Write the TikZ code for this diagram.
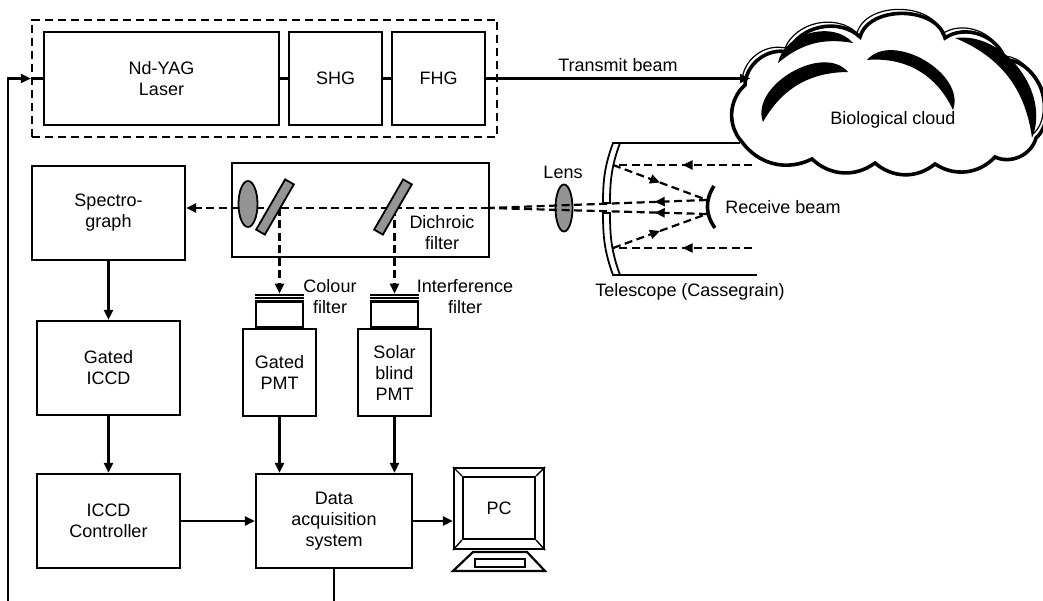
\documentclass[tikz,border=0pt]{standalone}
\usepackage{fontspec}
\setmainfont{Liberation Sans}
\usetikzlibrary{arrows.meta, calc, positioning, fit, shapes.geometric, decorations.markings}

\begin{document}
\begin{tikzpicture}[x=1pt, y=1pt, line width=2.2pt,
  box/.style={draw, align=center, inner sep=0pt, font=\fontsize{18}{21}\selectfont},
  lbl/.style={align=center, inner sep=0pt, font=\fontsize{18}{21}\selectfont},
  arr/.style={-{Triangle[length=10pt,width=9pt]}},
  beam/.style={dash pattern=on 8pt off 4.5pt},
  midarrow/.style={postaction={decorate}, decoration={markings,
    mark=at position #1 with {\arrow{Triangle[length=10pt,width=9pt]}}}},
  midarrow/.default=0.5,
  glass/.style={draw, fill=black!42, line width=1.8pt, inner sep=0pt}]
\useasboundingbox (0,0) rectangle (1043,600);
\clip (0,0) rectangle (1043,600);

% laser head
\node[box, minimum width=235pt, minimum height=93pt] (laser) at (161.5,521.5) {Nd-YAG\\Laser};
\node[box, minimum width=93pt, minimum height=93pt] (shg) at (335.5,521.5) {SHG};
\node[box, minimum width=93pt, minimum height=93pt] (fhg) at (438.5,521.5) {FHG};
\node[draw, dash pattern=on 8pt off 5pt, fit=(laser)(shg)(fhg), inner sep=11pt] (lasersys) {};
\draw (laser) -- (shg);
\draw (shg) -- (fhg);
\coordinate (cloudin) at (750,521.5);
\draw[arr] (fhg) -- (cloudin) node[lbl, midway, above=6pt] {Transmit beam};

% cloud
\begin{scope}[line width=3.6pt]
\draw (742,458) to[bend left=45] (745,515) to[bend left=50] (788,548)
  to[bend left=55] (860,563) to[bend left=75] (945,562) to[bend left=55] (1005,540)
  to[bend left=70] (1036,462) to[bend left=50] (995,443) to[bend left=40] (935,436)
  to[bend left=40] (875,437) to[bend left=40] (812,441) to[bend left=40] (742,458) -- cycle;
\draw[line width=1.2pt, shift={(-3,4)}] (745,515) to[bend left=50] (788,548)
  to[bend left=55] (860,563) to[bend left=75] (945,562) to[bend left=55] (1005,540)
  to[bend left=70] (1036,462);
\fill (763,478) to[bend left=80] (848,528) to[bend right=30] (763,478);
\fill (867,540) to[bend left=80] (953,490) to[bend right=35] (867,540);
\fill (778,537) to[bend left=65] (853,557) to[bend right=25] (778,537);
\fill (955,562) to[bend left=60] (1032,462) to[bend right=30] (955,562);
\end{scope}
\node[lbl] (cloud) at (893,480) {Biological cloud};

% detector chain
\node[box, minimum width=153pt, minimum height=94pt] (spec) at (108.5,387) {Spectro-\\graph};
\node[box, minimum width=143pt, minimum height=94pt] (gicc) at (108.5,232) {Gated\\ICCD};
\node[box, minimum width=143pt, minimum height=94pt] (ctrl) at (108.5,79) {ICCD\\Controller};
\node[box, minimum width=156pt, minimum height=94pt] (daq) at (334,79) {Data\\acquisition\\system};
\node[box, minimum width=73pt, minimum height=87pt] (gpmt) at (279.5,227.5) {Gated\\PMT};
\node[box, minimum width=73pt, minimum height=87pt] (spmt) at (394.5,227.5) {Solar\\blind\\PMT};
\node[draw, minimum width=47pt, minimum height=32pt, inner sep=0pt, anchor=south] (cap1) at (gpmt.north) {};
\node[draw, minimum width=47pt, minimum height=32pt, inner sep=0pt, anchor=south] (cap2) at (spmt.north) {};
\foreach \c in {cap1, cap2} {
  \fill (\c.north west) rectangle ([yshift=-9pt]\c.north east);
  \draw[white, line width=0.7pt] ([yshift=-3pt]\c.north west) -- ([yshift=-3pt]\c.north east);
  \draw[white, line width=0.7pt] ([yshift=-6pt]\c.north west) -- ([yshift=-6pt]\c.north east);
}
\node[lbl] (colourlbl) at (330,303) {Colour\\filter};
\node[lbl] (interlbl) at (465,303) {Interference\\filter};

\draw[arr] (spec) -- (gicc);
\draw[arr] (gicc) -- (ctrl);
\draw[arr] (ctrl) -- (daq);
\draw[arr] (gpmt.south) -- (gpmt.south |- daq.north);
\draw[arr] (spmt.south) -- (spmt.south |- daq.north);

% PC
\node[draw, minimum width=90pt, minimum height=81pt, inner sep=0pt] (pc) at (499,91.5) {};
\node[box, minimum width=72pt, minimum height=62pt] (screen) at (499,92) {PC};
\foreach \c in {north west, north east, south west, south east}
  \draw[line width=1.4pt] (pc.\c) -- (screen.\c);
\draw (473,48) -- (527,48) -- (545,29) -- (453,29) -- cycle;
\draw[line width=1.6pt] (475,33) rectangle (525,41);
\draw[arr] (daq.east) -- (daq.east -| pc.west);

% trigger loop back to the laser
\coordinate (loopcorner) at (8,-20);
\draw[arr] (daq.south) |- (loopcorner) |- (lasersys.west);
\draw (lasersys.west) -- (laser.west);

% receiver optics
\node[draw, minimum width=257pt, minimum height=94pt] (dich) at (360.5,390) {};
\node[lbl] (dichlbl) at (442,367) {Dichroic\\filter};
\coordinate (beamin) at (489,392);
\node[glass, ellipse, minimum width=17pt, minimum height=47pt] (lens2) at (564,392) {};
\node[lbl] (lenslbl) at (563,428) {Lens};

% telescope (Cassegrain)
\draw[line width=1.8pt, fill=white] (613,457) to[out=250,in=90] (603,397) -- (610,397)
  to[out=90,in=250] (620,457) -- cycle;
\draw[line width=1.8pt, fill=white] (603,387) to[out=270,in=110] (613,325) -- (620,325)
  to[out=110,in=270] (610,387) -- cycle;
\draw (617,457) -- (740,457);
\draw (617,325) -- (757,325);
\draw[line width=3.6pt] (714,414) to[bend right=35] (715,372);
\node[lbl] (recvlbl) at (783,393) {Receive beam};
\node[lbl] (telelbl) at (690,308) {Telescope (Cassegrain)};

\coordinate (sec1) at (707,400);
\coordinate (sec2) at (707,386);
\coordinate (in1) at (752,435);
\coordinate (in2) at (752,352);
\coordinate (p1) at (613,435);
\coordinate (p2) at (613,352);
\draw[beam, midarrow] (in1) -- (p1);
\draw[beam, midarrow] (in2) -- (p2);
\draw[beam, midarrow] (p1) -- (sec1);
\draw[beam, midarrow] (p2) -- (sec2);
\draw[beam, midarrow=0.24] (sec1) -- (beamin);
\draw[beam, midarrow=0.24] (sec2) -- (beamin);

% beam split inside the filter box
\draw[beam, arr] (beamin) -- (spec.east |- beamin);
\draw[beam, arr] (cap1.north |- beamin) -- (cap1.north);
\draw[beam, arr] (cap2.north |- beamin) -- (cap2.north);
\node[glass, ellipse, minimum width=19pt, minimum height=46pt] (lens1) at (248,396) {};
\node[glass, rectangle, minimum width=58pt, minimum height=10pt, rotate=60] (m1) at (275,393) {};
\node[glass, rectangle, minimum width=58pt, minimum height=10pt, rotate=60] (m2) at (393,393) {};
\end{tikzpicture}
\end{document}
